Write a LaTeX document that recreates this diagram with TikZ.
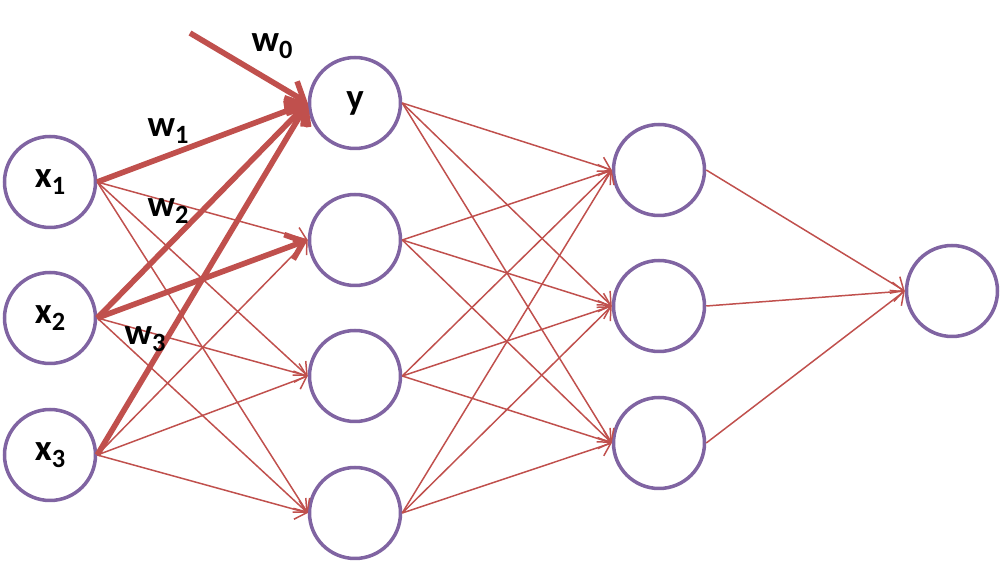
\documentclass[tikz,border=0pt]{standalone}
\usepackage{fontspec}
\setmainfont{Carlito}
\usetikzlibrary{arrows.meta}
\definecolor{nodepurple}{RGB}{128,100,162}
\definecolor{linkred}{RGB}{192,80,77}
\newcommand{\idx}[1]{\raisebox{-0.4ex}{\fontsize{15}{15}\selectfont #1}}

\begin{document}
\begin{tikzpicture}[x=0.02cm,y=-0.02cm,
  every node/.style={font=\fontsize{21}{24}\selectfont\bfseries},
  neuron/.style={circle,draw=nodepurple,line width=2pt,minimum size=1.82cm,inner sep=0pt},
  link/.style={draw=linkred,line width=0.85pt,-{Straight Barb[length=6pt,width=11pt]}},
  heavy/.style={draw=linkred,line width=3.2pt,-{Straight Barb[length=9pt,width=15pt]}},
  wlabel/.style={inner sep=0pt}]
  \useasboundingbox (0,0) rectangle (1002,564);
  % input layer
  \node[neuron] (x1) at (50,182) {x\idx{1}};
  \node[neuron] (x2) at (50,318) {x\idx{2}};
  \node[neuron] (x3) at (50,455) {x\idx{3}};
  % first hidden layer
  \node[neuron] (ha) at (355,103) {y};
  \node[neuron] (hb) at (355,240) {};
  \node[neuron] (hc) at (355,376) {};
  \node[neuron] (hd) at (355,513) {};
  % second hidden layer
  \node[neuron] (ga) at (659,170) {};
  \node[neuron] (gb) at (659,306) {};
  \node[neuron] (gc) at (659,443) {};
  % output
  \node[neuron] (out) at (952,291) {};
  \coordinate (bias) at (190,33);
  % thin connections
  \draw[link] (x1.east) -- (hb.west);
  \draw[link] (x1.east) -- (hc.west);
  \draw[link] (x1.east) -- (hd.west);
  \draw[link] (x2.east) -- (hc.west);
  \draw[link] (x2.east) -- (hd.west);
  \draw[link] (x3.east) -- (hb.west);
  \draw[link] (x3.east) -- (hc.west);
  \draw[link] (x3.east) -- (hd.west);
  \draw[link] (ha.east) -- (ga.west);
  \draw[link] (ha.east) -- (gb.west);
  \draw[link] (ha.east) -- (gc.west);
  \draw[link] (hb.east) -- (ga.west);
  \draw[link] (hb.east) -- (gb.west);
  \draw[link] (hb.east) -- (gc.west);
  \draw[link] (hc.east) -- (ga.west);
  \draw[link] (hc.east) -- (gb.west);
  \draw[link] (hc.east) -- (gc.west);
  \draw[link] (hd.east) -- (ga.west);
  \draw[link] (hd.east) -- (gb.west);
  \draw[link] (hd.east) -- (gc.west);
  \draw[link] (ga.east) -- (out.west);
  \draw[link] (gb.east) -- (out.west);
  \draw[link] (gc.east) -- (out.west);
  % weighted connections into y
  \draw[heavy] (bias) -- (ha.west);
  \draw[heavy] (x1.east) -- (ha.west);
  \draw[heavy] (x2.east) -- (ha.west);
  \draw[heavy] (x3.east) -- (ha.west);
  \draw[heavy] (x2.east) -- (hb.west);
  \node[wlabel] (w0) at (272,46) {w\idx{0}};
  \node[wlabel] (w1) at (168,131) {w\idx{1}};
  \node[wlabel] (w2) at (168,211) {w\idx{2}};
  \node[wlabel] (w3) at (145,339) {w\idx{3}};
\end{tikzpicture}
\end{document}
